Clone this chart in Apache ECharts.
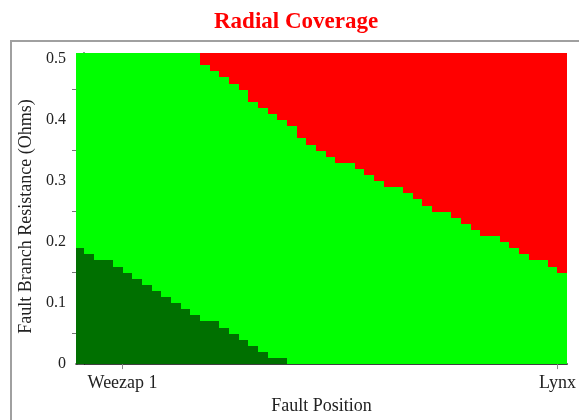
<!DOCTYPE html>
<html>
<head>
<meta charset="utf-8">
<script src="https://cdn.jsdelivr.net/npm/echarts@6/dist/echarts.min.js"></script>
<style>
  html, body { margin: 0; padding: 0; background: #fff; }
  #chart { width: 579px; height: 420px; }
</style>
</head>
<body>
<div id="chart"></div>
<script>
  // column i covers fault position [i-1, i]
  var darkGreenTop = [0.19, 0.18, 0.17, 0.17, 0.16, 0.15, 0.14, 0.13, 0.12, 0.11,
    0.10, 0.09, 0.08, 0.07, 0.07, 0.06, 0.05, 0.04, 0.03, 0.02,
    0.01, 0.01, 0, 0, 0, 0, 0, 0, 0, 0,
    0, 0, 0, 0, 0, 0, 0, 0, 0, 0,
    0, 0, 0, 0, 0, 0, 0, 0, 0, 0, 0];
  var redBottom = [0.51, 0.51, 0.51, 0.51, 0.51, 0.51, 0.51, 0.51, 0.51, 0.51,
    0.51, 0.51, 0.51, 0.49, 0.48, 0.47, 0.46, 0.45, 0.43, 0.42,
    0.41, 0.40, 0.39, 0.37, 0.36, 0.35, 0.34, 0.33, 0.33, 0.32,
    0.31, 0.30, 0.29, 0.29, 0.28, 0.27, 0.26, 0.25, 0.25, 0.24,
    0.23, 0.22, 0.21, 0.21, 0.20, 0.19, 0.18, 0.17, 0.17, 0.16, 0.15];
  var yTop = 0.51;

  var xTickValues = [4, 49];
  var xTickLabels = ['Weezap 1', 'Lynx'];
  var yTickValues = [0, 0.1, 0.2, 0.3, 0.4, 0.5];
  var yMinorTicks = [0.05, 0.15, 0.25, 0.35, 0.45];

  function cells(lo, hi) {
    var out = [];
    for (var i = 0; i < lo.length; i++) {
      var a = typeof lo === 'number' ? lo : lo[i];
      var b = typeof hi === 'number' ? hi : hi[i];
      if (b > a) out.push([i - 1, i, a, b]);
    }
    return out;
  }
  cells.len = darkGreenTop.length;

  function band(lo, hi) {
    var out = [];
    for (var i = 0; i < cells.len; i++) {
      var a = typeof lo === 'number' ? lo : lo[i];
      var b = typeof hi === 'number' ? hi : hi[i];
      if (b > a) out.push([i - 1, i, a, b]);
    }
    return out;
  }

  function renderCell(params, api) {
    var p0 = api.coord([api.value(0), api.value(3)]);
    var p1 = api.coord([api.value(1), api.value(2)]);
    var x0 = Math.round(p0[0]), x1 = Math.round(p1[0]);
    var y0 = Math.round(p0[1]), y1 = Math.round(p1[1]);
    var r = echarts.graphic.clipRectByRect(
      {x: x0, y: y0, width: x1 - x0, height: y1 - y0}, params.coordSys);
    if (!r) return;
    return {type: 'rect', shape: r, style: {fill: api.visual('color')}};
  }

  var serif = 'Liberation Serif, DejaVu Serif, serif';
  var myChart = echarts.init(document.getElementById('chart'));

  myChart.setOption({
    animation: false,
    title: {
      text: 'Radial Coverage',
      left: 214,
      top: 11,
      padding: 0,
      textStyle: {color: '#ff0000', fontFamily: serif, fontWeight: 'bold', fontSize: 23}
    },
    graphic: [{
      type: 'rect',
      shape: {x: 11, y: 41, width: 700, height: 500},
      style: {fill: 'none', stroke: '#a0a0a0', lineWidth: 2},
      silent: true
    }],
    grid: {left: 76, right: 10, top: 53, bottom: 53},
    xAxis: {
      type: 'value',
      min: -0.82,
      max: 50,
      name: 'Fault Position',
      nameLocation: 'middle',
      nameGap: 30,
      nameTextStyle: {fontFamily: serif, fontSize: 18, color: '#222'},
      axisLine: {show: true, lineStyle: {color: '#000', width: 1.5}},
      axisTick: {show: true, customValues: xTickValues, length: 5, lineStyle: {color: '#888'}},
      axisLabel: {
        customValues: xTickValues,
        margin: 10,
        fontFamily: serif,
        fontSize: 18,
        color: '#222',
        formatter: function (v) {
          return xTickLabels[xTickValues.indexOf(v)];
        }
      },
      splitLine: {show: false}
    },
    yAxis: [{
      type: 'value',
      min: 0,
      max: yTop,
      position: 'left',
      name: 'Fault Branch Resistance (Ohms)',
      nameLocation: 'middle',
      nameGap: 33,
      nameTextStyle: {fontFamily: serif, fontSize: 18, color: '#222', padding: [0, 16, 0, 0]},
      axisLine: {show: true, lineStyle: {color: '#000', width: 1.5}},
      axisTick: {show: true, customValues: yTickValues, length: 6, lineStyle: {color: '#555'}},
      axisLabel: {customValues: yTickValues, margin: 10, fontFamily: serif, fontSize: 16, color: '#222'},
      splitLine: {show: false}
    }, {
      type: 'value',
      min: 0,
      max: yTop,
      position: 'left',
      offset: 0,
      axisLine: {show: false},
      axisTick: {show: true, customValues: yMinorTicks, length: 4, lineStyle: {color: '#777'}},
      axisLabel: {show: false},
      splitLine: {show: false}
    }],
    series: [{
      type: 'custom',
      name: 'covered',
      renderItem: renderCell,
      itemStyle: {color: '#00ff00'},
      encode: {x: [0, 1], y: [2, 3]},
      data: band(darkGreenTop, redBottom)
    }, {
      type: 'custom',
      name: 'not covered',
      renderItem: renderCell,
      itemStyle: {color: '#ff0000'},
      encode: {x: [0, 1], y: [2, 3]},
      data: band(redBottom, yTop)
    }, {
      type: 'custom',
      name: 'instantaneous',
      renderItem: renderCell,
      itemStyle: {color: '#007000'},
      encode: {x: [0, 1], y: [2, 3]},
      data: band(0, darkGreenTop)
    }]
  });
</script>
</body>
</html>
